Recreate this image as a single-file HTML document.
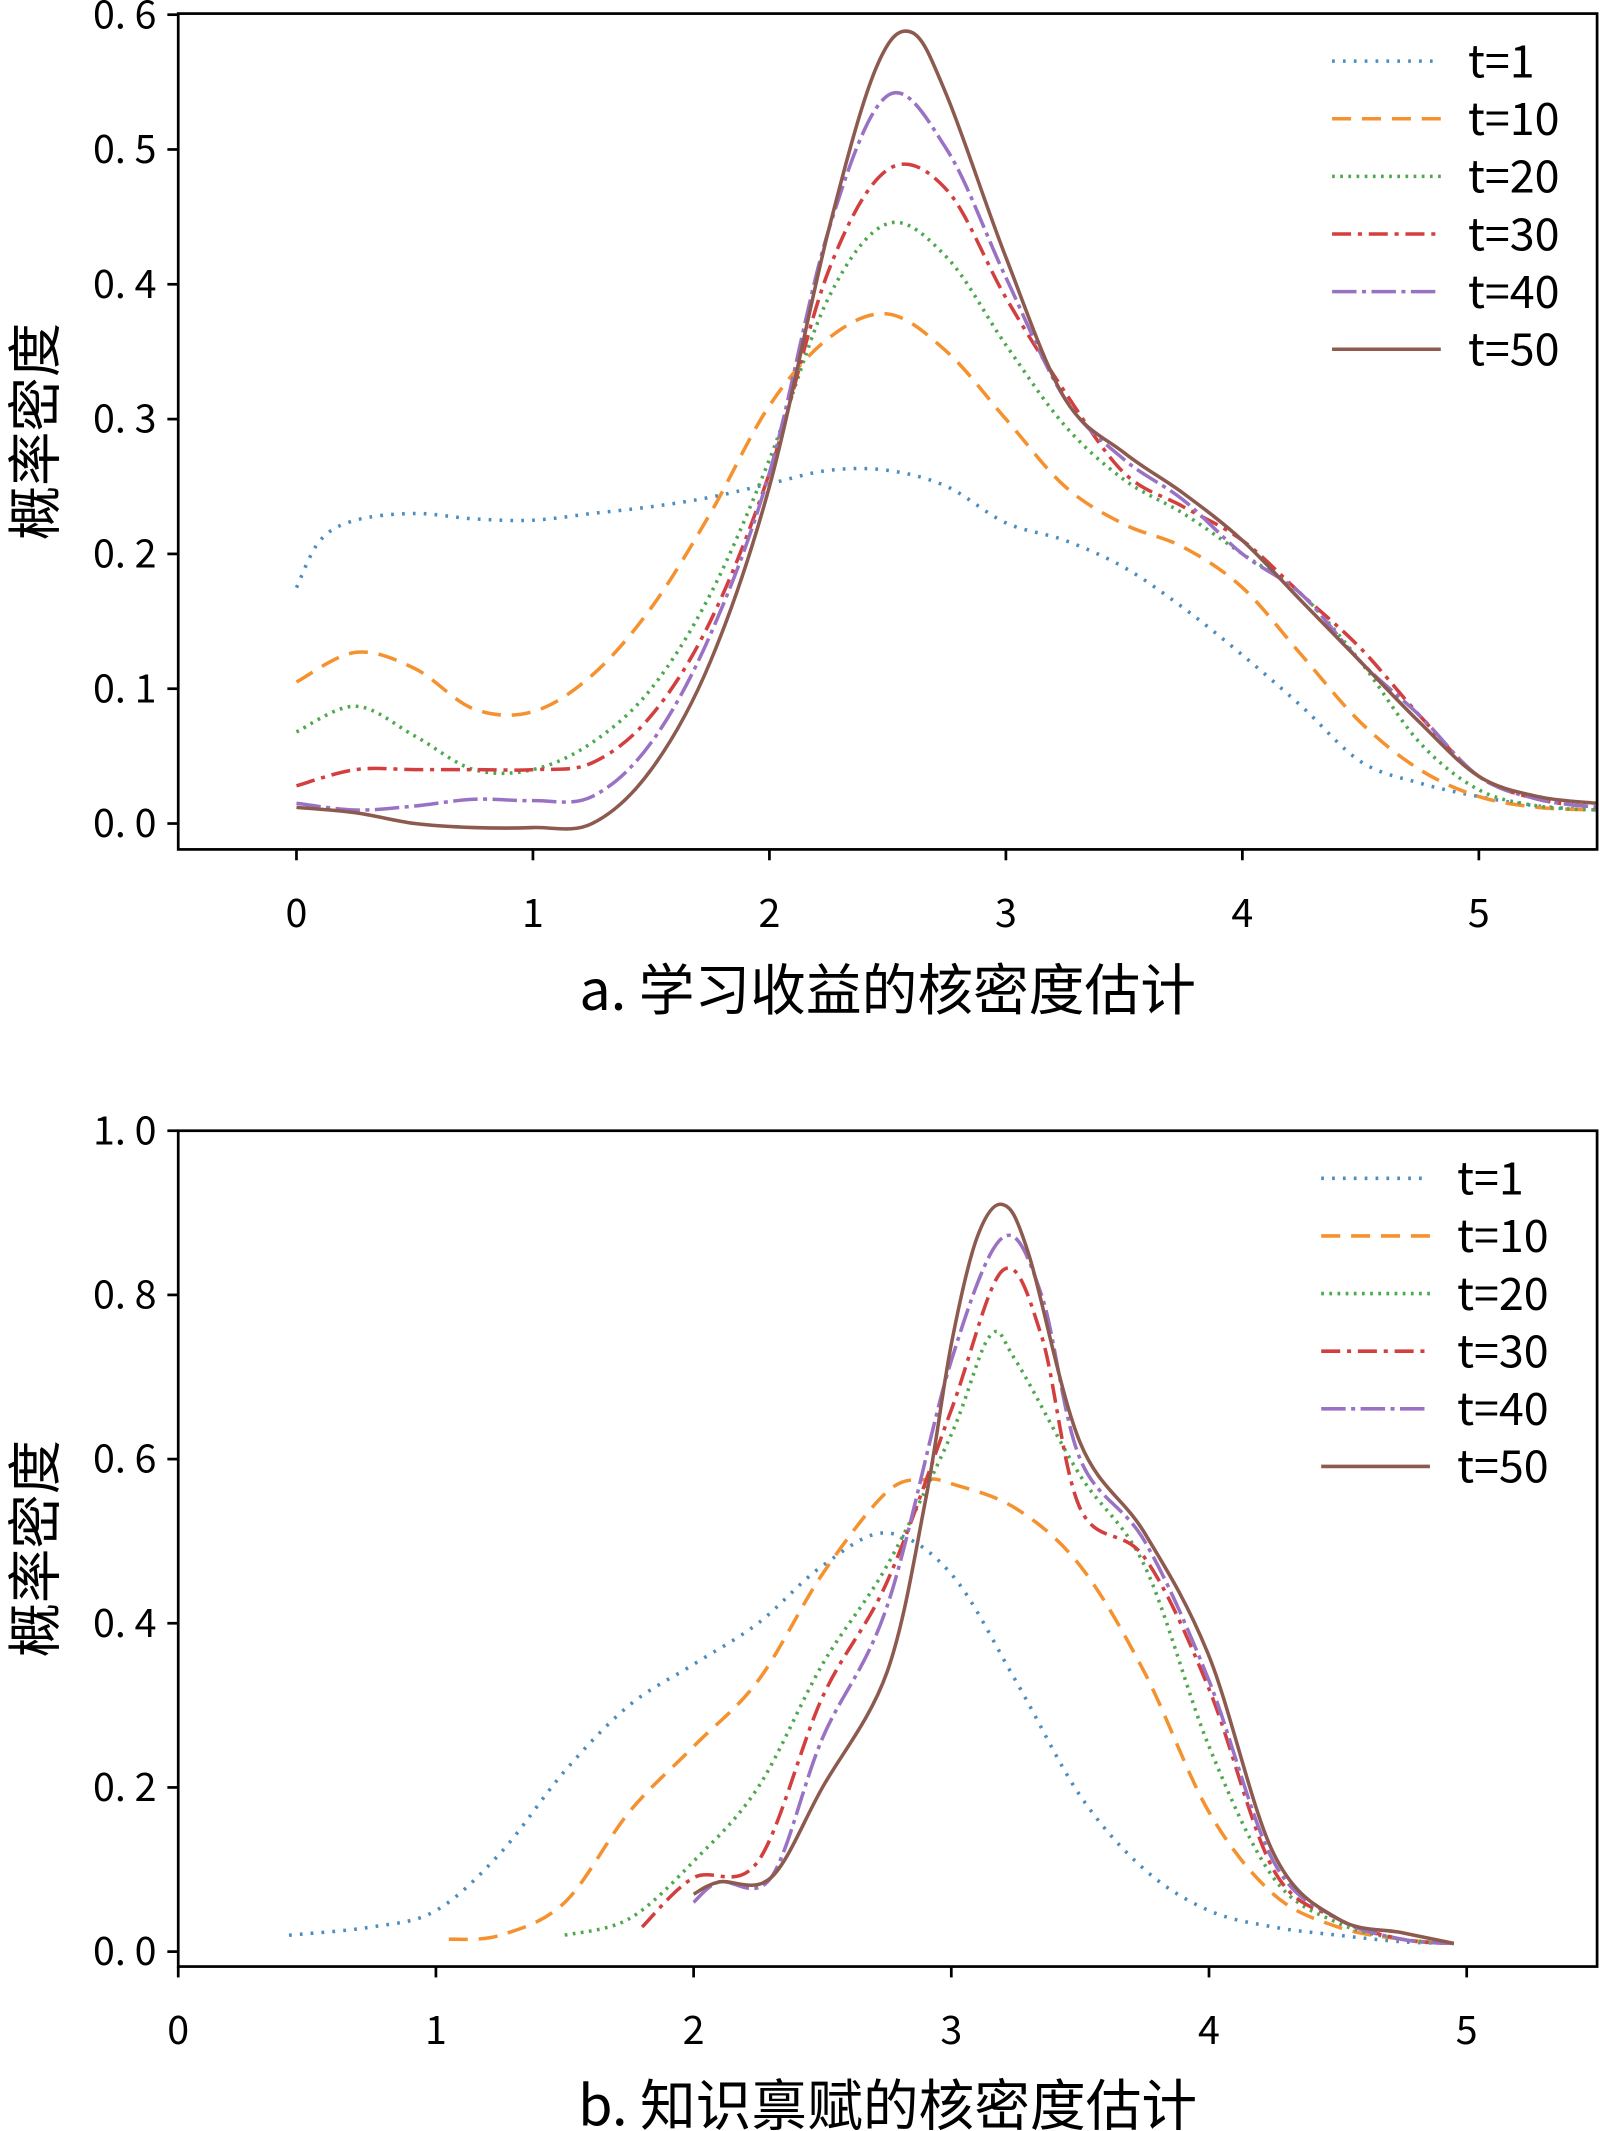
<!DOCTYPE html>
<html><head><meta charset="utf-8"><style>
html,body{margin:0;padding:0;background:#fff;}
svg{display:block;}
text{font-family:"WenQuanYi Zen Hei","Noto Sans CJK SC","Liberation Sans",sans-serif;fill:#000;}
</style></head><body>
<svg id="chart" width="1600" height="2131" viewBox="0 0 1177 1568" xmlns="http://www.w3.org/2000/svg"></svg>
<script>
// Panel A data (学习收益)
const seriesLabels = ["t=1","t=10","t=20","t=30","t=40","t=50"];
const aX1 = [0,0.1,0.25,0.5,0.75,1,1.25,1.5,1.75,2,2.25,2.5,2.75,3,3.25,3.5,3.75,4,4.25,4.5,4.75,5,5.25,5.5];
const aY1 = [0.175,0.21,0.225,0.23,0.226,0.225,0.23,0.235,0.242,0.252,0.262,0.262,0.25,0.223,0.21,0.19,0.16,0.125,0.087,0.046,0.03,0.02,0.013,0.01];
const aX = [0,0.25,0.5,0.75,1,1.25,1.5,1.75,2,2.25,2.5,2.75,3,3.25,3.5,3.75,4,4.25,4.5,4.75,5,5.25,5.5];
const aY10 = [0.105,0.127,0.115,0.085,0.083,0.11,0.16,0.23,0.31,0.36,0.378,0.35,0.3,0.25,0.222,0.205,0.175,0.125,0.075,0.04,0.02,0.012,0.01];
const aY20 = [0.068,0.087,0.065,0.04,0.04,0.06,0.1,0.17,0.27,0.39,0.445,0.42,0.355,0.295,0.255,0.23,0.2,0.17,0.12,0.06,0.025,0.013,0.01];
const aY30 = [0.028,0.04,0.04,0.04,0.04,0.045,0.08,0.15,0.26,0.41,0.485,0.47,0.39,0.32,0.26,0.235,0.21,0.17,0.13,0.08,0.035,0.018,0.012];
const aY40 = [0.015,0.01,0.013,0.018,0.017,0.02,0.06,0.14,0.26,0.44,0.54,0.5,0.405,0.315,0.27,0.24,0.2,0.17,0.12,0.08,0.035,0.018,0.012];
const aX50 = [0,0.25,0.5,0.75,1,1.25,1.5,1.75,2,2.25,2.45,2.6,2.75,3,3.25,3.5,3.75,4,4.25,4.5,4.75,5,5.25,5.5];
const aY50 = [0.012,0.008,0,-0.003,-0.003,0,0.04,0.12,0.25,0.44,0.56,0.587,0.54,0.42,0.315,0.275,0.245,0.21,0.165,0.12,0.075,0.035,0.02,0.015];
const aXTicks = [0,1,2,3,4,5];
const aYTicks = ["0.0","0.1","0.2","0.3","0.4","0.5","0.6"];
// Panel B data (知识禀赋)
const bX1 = [0.43,0.75,1,1.25,1.5,1.75,2,2.25,2.5,2.75,3,3.25,3.5,3.75,4,4.25,4.5,4.75,4.95];
const bY1 = [0.02,0.03,0.05,0.12,0.22,0.3,0.35,0.4,0.47,0.51,0.46,0.33,0.19,0.1,0.05,0.03,0.02,0.012,0.01];
const bX10 = [1.05,1.25,1.5,1.75,2,2.25,2.5,2.75,2.9,3,3.25,3.5,3.75,4,4.25,4.5,4.75,4.95];
const bY10 = [0.015,0.02,0.06,0.17,0.25,0.33,0.46,0.56,0.575,0.57,0.54,0.47,0.34,0.17,0.07,0.03,0.015,0.01];
const bX20 = [1.5,1.75,2,2.25,2.5,2.75,3,3.15,3.25,3.5,3.75,4,4.25,4.5,4.75,4.95];
const bY20 = [0.02,0.04,0.11,0.2,0.35,0.47,0.63,0.75,0.72,0.58,0.47,0.25,0.09,0.035,0.015,0.01];
const bX30 = [1.8,2,2.25,2.5,2.75,3,3.2,3.35,3.5,3.75,4,4.25,4.5,4.75,4.95];
const bY30 = [0.03,0.09,0.11,0.31,0.45,0.66,0.83,0.75,0.54,0.48,0.32,0.1,0.04,0.015,0.01];
const bX40 = [2,2.1,2.3,2.5,2.75,3,3.2,3.35,3.5,3.75,4,4.25,4.5,4.75,4.95];
const bY40 = [0.06,0.085,0.09,0.26,0.42,0.72,0.87,0.8,0.6,0.5,0.33,0.11,0.04,0.015,0.01];
const bX50 = [2,2.1,2.3,2.5,2.75,2.9,3,3.1,3.2,3.3,3.5,3.75,4,4.25,4.5,4.75,4.95];
const bY50 = [0.07,0.085,0.09,0.2,0.34,0.55,0.74,0.87,0.91,0.85,0.62,0.51,0.36,0.12,0.04,0.023,0.01];
const bXTicks = [0,1,2,3,4,5];
const bYTicks = ["0.0","0.2","0.4","0.6","0.8","1.0"];

const colors = ["#4c8dbd","#f5922f","#4ea94e","#d33f3f","#9a72c4","#8c5a4e"];
const dashes = ["2,6","14,8","2,4","14,5,3,5","18,4,3,4",""];
const NS = "http://www.w3.org/2000/svg";
const svg = document.getElementById("chart");
function mk(tag, attrs, parent){const e=document.createElementNS(NS,tag);for(const k in attrs)e.setAttribute(k,attrs[k]);(parent||svg).appendChild(e);return e;}
function smooth(pts){let d="M"+pts[0][0]+","+pts[0][1];for(let i=0;i<pts.length-1;i++){const p0=pts[i-1]||pts[i],p1=pts[i],p2=pts[i+1],p3=pts[i+2]||p2;const c1=[p1[0]+(p2[0]-p0[0])/6,p1[1]+(p2[1]-p0[1])/6],c2=[p2[0]-(p3[0]-p1[0])/6,p2[1]-(p3[1]-p1[1])/6];d+=`C${c1[0]},${c1[1]} ${c2[0]},${c2[1]} ${p2[0]},${p2[1]}`;}return d;}

function panel(cfg){
  const g=mk("g",{});
  
  
  const {L,R,T,B,xmin,xmax,ymin,ymax}=cfg;
  const sx=v=>L+(v-xmin)/(xmax-xmin)*(R-L);
  const sy=v=>B-(v-ymin)/(ymax-ymin)*(B-T);
  const clip=mk("clipPath",{id:cfg.name+"-clip"},g);mk("rect",{x:L,y:T,width:R-L,height:B-T},clip);
  cfg.series.forEach((s,i)=>{
    const pts=s[0].map((x,j)=>[sx(x),sy(s[1][j])]);
    const p=mk("path",{d:smooth(pts),fill:"none",stroke:colors[i],"stroke-width":2.6,"stroke-dasharray":dashes[i],"clip-path":`url(#${cfg.name}-clip)`},g);
    
    
  });
  const frame=mk("rect",{x:L,y:T,width:R-L,height:B-T,fill:"none",stroke:"#000","stroke-width":2},g);
  
  
  cfg.xticks.forEach(v=>{
    const x=sx(v);mk("line",{x1:x,x2:x,y1:B,y2:B+8,stroke:"#000","stroke-width":2},g);
    const t=mk("text",{x:x,y:B+57,"text-anchor":"middle","font-size":29},g);t.textContent=v;
    
    
  });
  cfg.yticks.forEach(s=>{
    const y=sy(parseFloat(s));mk("line",{x1:L,x2:L-8,y1:y,y2:y,stroke:"#000","stroke-width":2},g);
    const t=mk("text",{x:L-16,y:y+10,"text-anchor":"end","font-size":29},g);t.textContent=s.replace(".",". ");
    
    
  });
  const yl=mk("text",{x:0,y:0,transform:`translate(40,${(T+B)/2}) rotate(-90)`,"text-anchor":"middle","font-size":40},g);yl.textContent="概率密度";
  
  
  const xl=mk("text",{x:653,y:cfg.xlY,"text-anchor":"middle","font-size":41},g);xl.textContent=cfg.xlabel;
  
  
  seriesLabels.forEach((lab,i)=>{
    const y=cfg.legY+i*42.4;
    const e=mk("g",{},g);
    
    
    mk("line",{x1:cfg.legX,x2:cfg.legX+80,y1:y,y2:y,stroke:colors[i],"stroke-width":2.6,"stroke-dasharray":dashes[i]},e);
    const t=mk("text",{x:cfg.legX+100,y:y+12,"font-size":33},e);t.textContent=lab;
  });
}
panel({name:"panel-a",L:131,R:1175,T:10,B:625,xmin:-0.5,xmax:5.5,ymin:-0.0192,ymax:0.6008,
  series:[[aX1,aY1],[aX,aY10],[aX,aY20],[aX,aY30],[aX,aY40],[aX50,aY50]],
  xticks:aXTicks,yticks:aYTicks,xlabel:"a. 学习收益的核密度估计",xlY:743,legX:980,legY:45});
panel({name:"panel-b",L:131,R:1175,T:832,B:1447,xmin:0,xmax:5.506,ymin:-0.0182,ymax:1.0,
  series:[[bX1,bY1],[bX10,bY10],[bX20,bY20],[bX30,bY30],[bX40,bY40],[bX50,bY50]],
  xticks:bXTicks,yticks:bYTicks,xlabel:"b. 知识禀赋的核密度估计",xlY:1564,legX:972,legY:867});
</script>
</body></html>
